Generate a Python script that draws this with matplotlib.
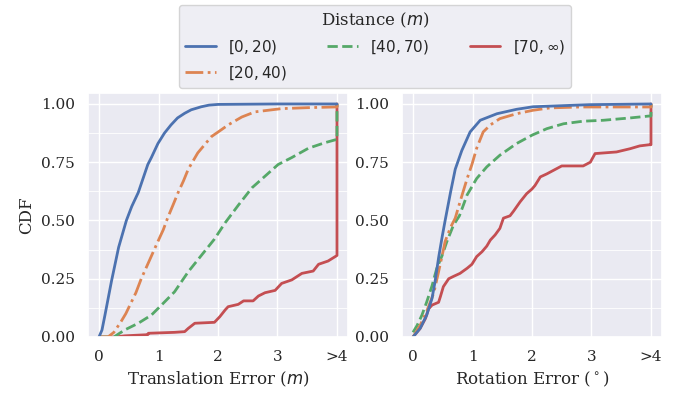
import matplotlib
matplotlib.use("Agg")
import matplotlib.pyplot as plt
from matplotlib.ticker import MultipleLocator
import seaborn as sns

sns.set_theme(context="notebook", style="darkgrid")
plt.rcParams["font.family"] = ["DejaVu Serif"]

labels = [r"$[0, 20)$", r"$[20, 40)$", r"$[40, 70)$", r"$[70, \infty)$"]
colors = ["#4C72B0", "#DD8452", "#55A868", "#C44E52"]
styles = ["-", "-.", "--", "-"]

# Translation error CDFs (x in m, values > 4 clipped at 4)
trans_x = [
    [0.0, 0.05, 0.1, 0.21, 0.33, 0.46, 0.55, 0.66, 0.74, 0.82, 0.88, 0.99, 1.1, 1.21, 1.32, 1.44, 1.55, 1.72, 1.85, 2.0, 3.0, 4.0],
    [0.0, 0.15, 0.25, 0.37, 0.45, 0.52, 0.62, 0.71, 0.85, 0.99, 1.08, 1.16, 1.25, 1.33, 1.42, 1.5, 1.66, 1.89, 2.06, 2.17, 2.4, 2.62, 3.07, 3.5, 3.96, 4.0, 4.0],
    [0.0, 0.25, 0.43, 0.66, 0.88, 1.05, 1.27, 1.5, 1.72, 1.94, 2.12, 2.34, 2.57, 2.79, 3.01, 3.24, 3.52, 3.8, 3.97, 4.0, 4.0],
    [0.0, 0.27, 0.43, 0.82, 0.83, 1.27, 1.44, 1.5, 1.61, 1.94, 2.03, 2.12, 2.17, 2.34, 2.43, 2.59, 2.68, 2.79, 2.96, 3.07, 3.24, 3.41, 3.6, 3.69, 3.85, 3.97, 4.0, 4.0],
]
trans_y = [
    [0.0, 0.03, 0.094, 0.24, 0.385, 0.50, 0.56, 0.62, 0.68, 0.74, 0.77, 0.83, 0.875, 0.91, 0.94, 0.96, 0.975, 0.988, 0.995, 0.998, 1.0, 1.0],
    [0.0, 0.0, 0.02, 0.066, 0.10, 0.137, 0.19, 0.25, 0.33, 0.41, 0.46, 0.515, 0.57, 0.62, 0.67, 0.72, 0.79, 0.86, 0.89, 0.91, 0.944, 0.966, 0.98, 0.984, 0.987, 0.987, 1.0],
    [0.0, 0.0, 0.03, 0.059, 0.094, 0.137, 0.194, 0.28, 0.35, 0.42, 0.49, 0.565, 0.64, 0.69, 0.74, 0.77, 0.81, 0.834, 0.846, 0.846, 1.0],
    [0.0, 0.0, 0.005, 0.01, 0.016, 0.02, 0.023, 0.037, 0.059, 0.063, 0.087, 0.116, 0.13, 0.14, 0.155, 0.155, 0.176, 0.19, 0.20, 0.23, 0.245, 0.273, 0.283, 0.312, 0.326, 0.345, 0.35, 1.0],
]

# Rotation error CDFs (x in degrees, values > 4 clipped at 4)
rot_x = [
    [0.0, 0.12, 0.23, 0.32, 0.37, 0.43, 0.49, 0.54, 0.63, 0.71, 0.82, 0.96, 1.13, 1.41, 1.74, 2.02, 2.97, 4.0],
    [0.0, 0.12, 0.23, 0.35, 0.43, 0.49, 0.54, 0.63, 0.71, 0.79, 0.91, 0.99, 1.07, 1.18, 1.3, 1.46, 1.74, 2.02, 2.3, 2.81, 3.93, 4.0, 4.0],
    [0.0, 0.07, 0.15, 0.23, 0.32, 0.4, 0.49, 0.57, 0.68, 0.78, 0.91, 1.07, 1.24, 1.46, 1.74, 2.0, 2.25, 2.53, 2.86, 3.2, 3.65, 3.96, 4.0, 4.0],
    [0.0, 0.12, 0.21, 0.26, 0.32, 0.43, 0.46, 0.51, 0.6, 0.68, 0.79, 0.91, 0.99, 1.07, 1.16, 1.24, 1.3, 1.38, 1.46, 1.52, 1.63, 1.69, 1.8, 1.91, 2.0, 2.05, 2.14, 2.25, 2.36, 2.5, 2.86, 2.98, 3.06, 3.42, 3.65, 3.81, 3.97, 4.0, 4.0],
]
rot_y = [
    [0.0, 0.037, 0.094, 0.166, 0.237, 0.34, 0.43, 0.50, 0.62, 0.72, 0.80, 0.88, 0.93, 0.958, 0.977, 0.988, 0.997, 1.0],
    [0.0, 0.05, 0.11, 0.19, 0.28, 0.35, 0.41, 0.47, 0.51, 0.58, 0.68, 0.74, 0.81, 0.88, 0.91, 0.937, 0.958, 0.973, 0.983, 0.987, 0.987, 0.987, 1.0],
    [0.02, 0.05, 0.094, 0.15, 0.22, 0.295, 0.35, 0.41, 0.48, 0.52, 0.61, 0.68, 0.73, 0.78, 0.83, 0.866, 0.894, 0.915, 0.926, 0.93, 0.94, 0.948, 0.948, 1.0],
    [0.0, 0.037, 0.08, 0.12, 0.137, 0.149, 0.173, 0.216, 0.25, 0.26, 0.273, 0.295, 0.312, 0.345, 0.366, 0.39, 0.416, 0.438, 0.466, 0.51, 0.52, 0.54, 0.58, 0.615, 0.635, 0.65, 0.687, 0.70, 0.715, 0.734, 0.734, 0.75, 0.787, 0.794, 0.808, 0.82, 0.825, 0.825, 1.0],
]

xticks = [0, 1, 2, 3, 4]
xticklabels = ["0", "1", "2", "3", ">4"]
yticks = [0.0, 0.25, 0.5, 0.75, 1.0]

fig = plt.figure(figsize=(6.77, 3.93), dpi=100)
ax1 = fig.add_axes([88 / 677, 1 - 337 / 393, 260 / 677, 244 / 393])
ax2 = fig.add_axes([402 / 677, 1 - 337 / 393, 260 / 677, 244 / 393])

handles = [None] * 4
for ax, xs, ys, xl in [(ax1, trans_x, trans_y, r"Translation Error ($m$)"),
                       (ax2, rot_x, rot_y, r"Rotation Error ($^\circ$)")]:
    for i in reversed(range(4)):
        h, = ax.plot(xs[i], ys[i], color=colors[i], linestyle=styles[i], linewidth=2.0, label=labels[i])
        handles[i] = h
    ax.set_xlim(-0.185, 4.185)
    ax.set_ylim(0, 1.047)
    ax.set_xticks(xticks)
    ax.set_xticklabels(xticklabels)
    ax.set_yticks(yticks)
    ax.set_yticklabels(["0.00", "0.25", "0.50", "0.75", "1.00"])
    ax.yaxis.set_minor_locator(MultipleLocator(0.125))
    ax.grid(which="minor", axis="y", color="white", linewidth=0.6)
    ax.tick_params(which="minor", length=0)
    ax.set_xlabel(xl)

ax1.set_ylabel("CDF")

fig.legend(handles, labels, title=r"Distance ($m$)", ncol=3, loc="upper center",
           bbox_to_anchor=(375 / 677, 1 - 5 / 393), borderaxespad=0,
           columnspacing=2.65, frameon=True)

fig.savefig("out.png", dpi=100)
